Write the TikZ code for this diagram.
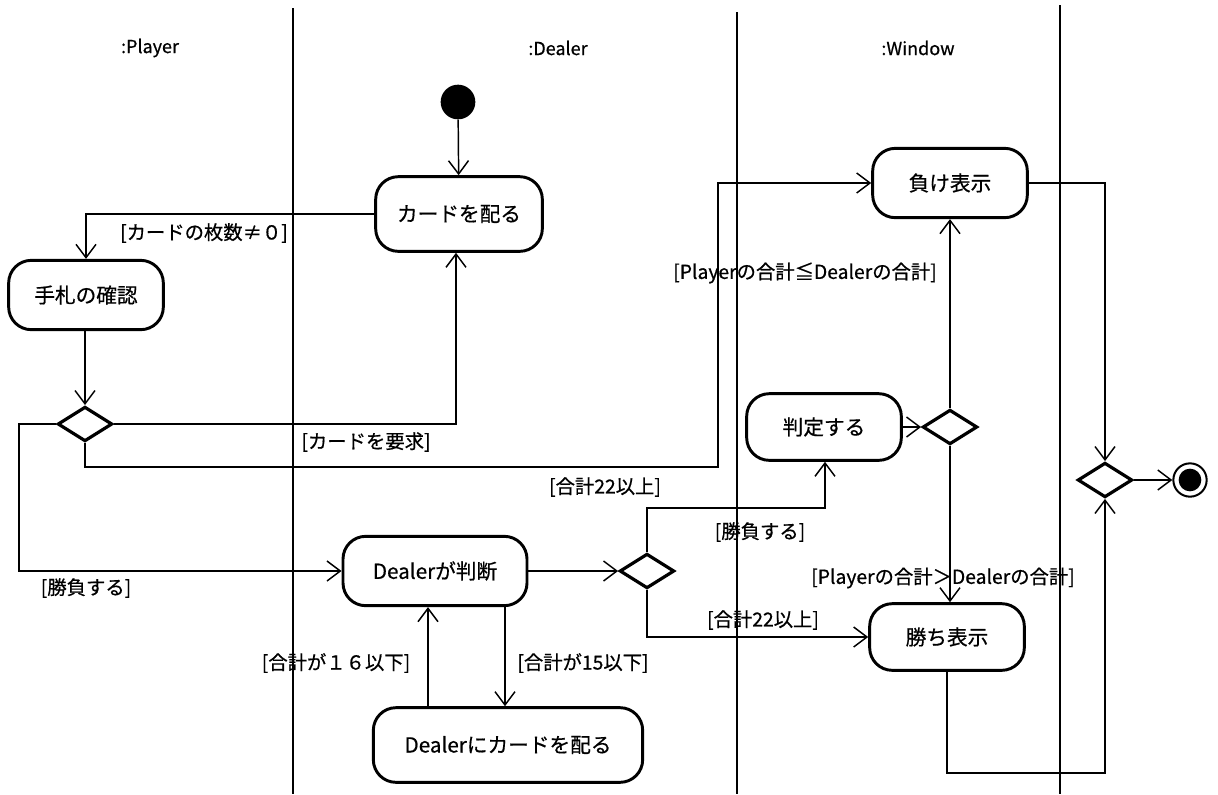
\documentclass[tikz,border=0pt]{standalone}
\usepackage{fontspec}
\setmainfont{Noto Sans CJK JP}[FakeBold=0.6]
\usetikzlibrary{arrows.meta,shapes.geometric}
\begin{document}
\begin{tikzpicture}[x=0.75pt,y=-0.75pt,
  act/.style={draw,line width=2.2pt,rounded corners=17pt,inner sep=0pt,font=\fontsize{15.5}{15.5}\selectfont},
  dec/.style={draw,diamond,line width=2.4pt,inner sep=0pt,minimum width=41pt,minimum height=26pt},
  flow/.style={line width=1.1pt,-{Straight Barb[length=10pt,width=15pt,line width=1.1pt]}},
  lane/.style={line width=1.2pt},
  lbl/.style={font=\fontsize{14.5}{14.5}\selectfont,inner sep=0pt},
  title/.style={font=\fontsize{13.5}{13.5}\selectfont,inner sep=0pt}]
\useasboundingbox (0,0) rectangle (1218,794);
% swimlanes
\coordinate (l1t) at (293,8);   \coordinate (l1b) at (293,794);
\coordinate (l2t) at (737,12);  \coordinate (l2b) at (737,794);
\coordinate (l3t) at (1060,5);  \coordinate (l3b) at (1060,794);
\draw[lane] (l1t) -- (l1b);
\draw[lane] (l2t) -- (l2b);
\draw[lane] (l3t) -- (l3b);
\node[title] (tp) at (150,48) {:Player};
\node[title] (td) at (558,48) {:Dealer};
\node[title] (tw) at (918,48) {:Window};
% nodes
\node[circle,fill=black,minimum size=26pt,inner sep=0pt] (init) at (458,102) {};
\node[act,minimum width=125pt,minimum height=56pt] (deal) at (459,214) {カードを配る};
\node[act,minimum width=116pt,minimum height=52pt] (hand) at (86,295) {手札の確認};
\node[dec] (d1) at (85,424) {};
\node[act,minimum width=138pt,minimum height=52pt] (judge) at (435,571) {Dealerが判断};
\node[dec] (d2) at (647,571) {};
\node[act,minimum width=202pt,minimum height=56pt] (dcard) at (508,745) {Dealerにカードを配る};
\node[act,minimum width=116pt,minimum height=50pt] (hantei) at (824,427) {判定する};
\node[dec] (d3) at (950,427) {};
\node[act,minimum width=116pt,minimum height=52pt] (lose) at (950,183) {負け表示};
\node[act,minimum width=116pt,minimum height=50pt] (win) at (947,637) {勝ち表示};
\node[dec] (d4) at (1105,480) {};
\node[circle,draw,line width=1.5pt,minimum size=25pt,inner sep=0pt] (fin) at (1190,480) {};
\node[circle,fill=black,minimum size=17pt,inner sep=0pt] at (fin) {};
% connectors
\draw[flow] (init) -- (deal);
\coordinate (c1) at (86,214);
\draw[flow] (deal.west) -- (c1) -- (hand.north);
\draw[flow] (hand.south -| d1) -- (d1.north);
\coordinate (c2) at (456,424);
\draw[flow] (d1.east) -- (c2) -- (deal.south -| c2);
\coordinate (c3) at (85,467);
\coordinate (c4) at (718,467);
\coordinate (c5) at (718,183);
\draw[flow] (d1.south) -- (c3) -- (c4) -- (c5) -- (lose.west);
\coordinate (c6) at (19,424);
\coordinate (c7) at (19,571);
\draw[flow] (d1.west) -- (c6) -- (c7) -- (judge.west);
\draw[flow] (judge.east) -- (d2.west);
\coordinate (c8) at (505,600);
\draw[flow] (judge.south -| c8) -- (dcard.north -| c8);
\coordinate (c9) at (428,600);
\draw[flow] (dcard.north -| c9) -- (judge.south -| c9);
\coordinate (c10) at (647,508);
\coordinate (c11) at (825,508);
\draw[flow] (d2.north) -- (c10) -- (c11) -- (hantei.south -| c11);
\coordinate (c12) at (647,637);
\draw[flow] (d2.south) -- (c12) -- (win.west);
\draw[flow] (hantei.east) -- (d3.west);
\draw[flow] (d3.north) -- (lose.south -| d3);
\draw[flow] (d3.south) -- (win.north -| d3);
\coordinate (c13) at (1105,183);
\draw[flow] (lose.east) -- (c13) -- (d4.north);
\coordinate (c14) at (947,773);
\coordinate (c15) at (1105,773);
\draw[flow] (win.south) -- (c14) -- (c15) -- (d4.south);
\draw[flow] (d4.east) -- (fin.west);
% labels
\node[lbl] (g1) at (204,233) {[カードの枚数≠０]};
\node[lbl] (g2) at (366,442) {[カードを要求]};
\node[lbl] (g3) at (605,487) {[合計22以上]};
\node[lbl] (g4) at (86,588) {[勝負する]};
\node[lbl] (g5) at (336,663) {[合計が１６以下]};
\node[lbl] (g6) at (583,663) {[合計が15以下]};
\node[lbl] (g7) at (760,532) {[勝負する]};
\node[lbl] (g8) at (763,620) {[合計22以上]};
\node[lbl] (g9) at (805,273) {[Playerの合計≦Dealerの合計]};
\node[lbl] (g10) at (943,578) {[Playerの合計＞Dealerの合計]};
\end{tikzpicture}
\end{document}
